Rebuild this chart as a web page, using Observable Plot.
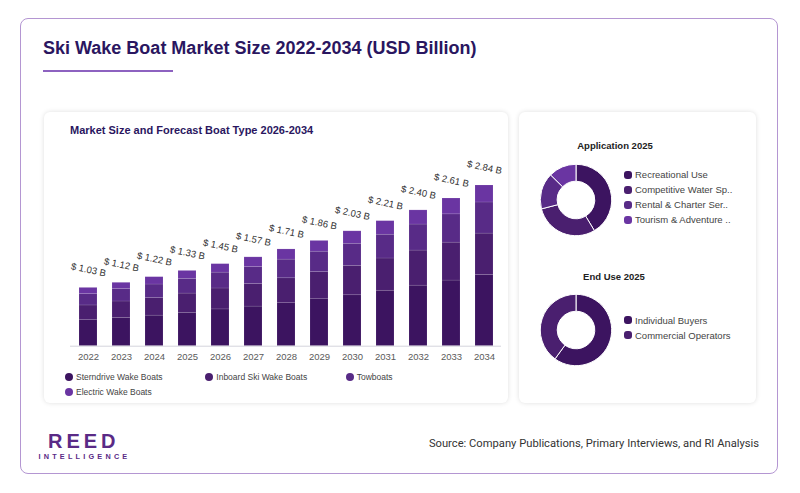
<!DOCTYPE html>
<html><head><meta charset="utf-8">
<script src="https://cdn.jsdelivr.net/npm/d3@7"></script>
<script src="https://cdn.jsdelivr.net/npm/@observablehq/plot@0.6"></script>
<style>
body{margin:0;width:800px;height:493px;position:relative;background:#fff;font-family:"Liberation Sans",Arial,sans-serif;overflow:hidden}
.abs{position:absolute}
#frame{left:20px;top:18px;width:758px;height:456px;border:1px solid #b496d2;border-radius:8px;box-sizing:border-box}
#title{left:43px;top:39px;font:bold 18px/18px "Liberation Sans Narrow","Liberation Sans",sans-serif;color:#2a1660;white-space:nowrap}
#rule{left:43px;top:70px;width:130px;height:2px;background:#8d62c0}
.panel{background:#fff;border-radius:6px;box-shadow:0 0 5px rgba(0,0,0,0.13)}
#sub{left:70px;top:124px;font:bold 11px/12px "Liberation Sans",sans-serif;color:#2a1660;white-space:nowrap}
.leg{font-size:8.5px;color:#444;white-space:nowrap;line-height:10px}
.leg i{position:absolute;width:8px;height:8px;border-radius:50%;left:-11px;top:1px}
.dl{font-size:9.5px;color:#444;white-space:nowrap;line-height:11px}
.dl i{position:absolute;width:8px;height:8px;border-radius:3px;left:-11.5px;top:1.5px}
.dt{font:bold 9.5px/11px "Liberation Sans",sans-serif;color:#222;white-space:nowrap;transform:translateX(-50%)}
#reed{left:48px;top:431px;font:bold 20px/20px "Liberation Sans",sans-serif;letter-spacing:4px;color:#5a2a86}
#intel{left:38.5px;top:452.8px;font:bold 7.3px/8px "Liberation Sans",sans-serif;letter-spacing:3.2px;color:#5a2a86}
#src{right:41px;top:438px;font:11.2px/12px "Roboto",sans-serif;color:#333;white-space:nowrap}
</style></head>
<body>
<div id="frame" class="abs"></div>
<div id="title" class="abs">Ski Wake Boat Market Size 2022-2034 (USD Billion)</div>
<div id="rule" class="abs"></div>
<div class="abs panel" style="left:44px;top:112px;width:464px;height:291px"></div>
<div class="abs panel" style="left:519px;top:112px;width:237px;height:291px"></div>
<div id="sub" class="abs">Market Size and Forecast Boat Type 2026-2034</div>
<div id="bars" class="abs" style="left:44px;top:112px"></div>
<div id="barleg"></div>
<div class="abs dt" style="left:615px;top:140px">Application 2025</div>
<div id="d1" class="abs" style="left:535.7px;top:160.3px"></div>
<div id="leg1"></div>
<div class="abs dt" style="left:614px;top:270.5px">End Use 2025</div>
<div id="d2" class="abs" style="left:535.7px;top:290.3px"></div>
<div id="leg2"></div>
<div id="reed" class="abs">REED</div>
<div id="intel" class="abs">INTELLIGENCE</div>
<div id="src" class="abs">Source: Company Publications, Primary Interviews, and RI Analysis</div>
<script>
const years = ["2022","2023","2024","2025","2026","2027","2028","2029","2030","2031","2032","2033","2034"];
const totals = [1.03,1.12,1.22,1.33,1.45,1.57,1.71,1.86,2.03,2.21,2.40,2.61,2.84];
const sterndrive = [0.46,0.50,0.54,0.59,0.65,0.70,0.76,0.83,0.90,0.98,1.07,1.16,1.26];
const inboard    = [0.26,0.29,0.31,0.34,0.37,0.40,0.44,0.48,0.52,0.57,0.62,0.67,0.73];
const towboats   = [0.20,0.22,0.24,0.26,0.28,0.30,0.33,0.36,0.39,0.42,0.46,0.50,0.55];
const electric   = [0.11,0.11,0.13,0.14,0.15,0.17,0.18,0.19,0.22,0.24,0.25,0.28,0.30];
const seriesNames = ["Sterndrive Wake Boats","Inboard Ski Wake Boats","Towboats","Electric Wake Boats"];
const seriesColors = ["#3c1460","#4a1f6f","#582b87","#6a35a2"];

const appLabels = ["Recreational Use","Competitive Water Sp..","Rental & Charter Ser..","Tourism & Adventure .."];
const appValues = [41.4,29.6,16.4,12.6];
const endLabels = ["Individual Buyers","Commercial Operators"];
const endValues = [60,40];

const series = [sterndrive,inboard,towboats,electric];
const rows = [];
years.forEach((y,i)=>series.forEach((s,k)=>rows.push({year:y,series:seriesNames[k],value:s[i]})));
const totalRows = years.map((y,i)=>({year:y,total:totals[i]}));

const bars = Plot.plot({
  width:464, height:255,
  marginLeft:26, marginRight:7, marginTop:73, marginBottom:21.3,
  style:{fontFamily:"Liberation Sans, Arial, sans-serif", fontSize:"9.5px", color:"#555", background:"transparent"},
  x:{domain:years, paddingInner:0.46, paddingOuter:0.25, label:null},
  y:{domain:[0,2.84], axis:null},
  color:{domain:seriesNames, range:seriesColors},
  marks:[
    Plot.barY(rows,{x:"year",y:"value",fill:"series",stroke:"#fff",strokeOpacity:0.18,strokeWidth:0.6}),
    Plot.ruleY([0],{stroke:"#d4d4dc"}),
    Plot.axisX({tickSize:0, tickPadding:7.5, fill:"#5a5a5a", fontSize:9.5}),
    Plot.text(totalRows,{x:"year",y:"total",text:d=>`$ ${d.total.toFixed(2)} B`,dy:-18,rotate:12,fill:"#333",fontSize:9.5})
  ]
});
document.getElementById("bars").appendChild(bars);

const legPos = [[76,372],[216.3,372],[356.7,372],[76,387]];
const bl = document.getElementById("barleg");
seriesNames.forEach((n,i)=>{
  const d=document.createElement("div");
  d.className="abs leg";
  d.style.left=legPos[i][0]+"px"; d.style.top=legPos[i][1]+"px";
  d.innerHTML=`<i style="background:${seriesColors[i]}"></i>${n}`;
  bl.appendChild(d);
});

function donutMark(values, labels){
  return (index, scales, channels, dimensions) => {
    const {width,height} = dimensions;
    const color = scales.color || d3.scaleOrdinal(labels, seriesColors);
    const g = d3.create("svg:g").attr("transform",`translate(${width/2},${height/2})`);
    const arcs = d3.pie().sort(null).value(d=>d.v)(values.map((v,i)=>({v,l:labels[i]})));
    const arc = d3.arc().innerRadius(18.8).outerRadius(35.7);
    g.selectAll("path").data(arcs).join("path")
      .attr("d",arc).attr("fill",d=>color(d.data.l)).attr("stroke","#fff").attr("stroke-width",1);
    return g.node();
  };
}
function donut(id, values, labels){
  const p = Plot.plot({
    width:80, height:80, margin:0,
    style:{background:"transparent"},
    color:{domain:labels, range:seriesColors.slice(0,labels.length)},
    marks:[donutMark(values, labels)]
  });
  document.getElementById(id).appendChild(p);
}
donut("d1", appValues, appLabels);
donut("d2", endValues, endLabels);

function dlegend(id, labels, x, y0){
  const el=document.getElementById(id);
  labels.forEach((l,i)=>{
    const d=document.createElement("div");
    d.className="abs dl";
    d.style.left=x+"px"; d.style.top=(y0+i*15)+"px";
    d.innerHTML=`<i style="background:${seriesColors[i]}"></i>${l}`;
    el.appendChild(d);
  });
}
dlegend("leg1", appLabels, 635, 169);
dlegend("leg2", endLabels, 635, 314.5);
</script>
</body></html>
